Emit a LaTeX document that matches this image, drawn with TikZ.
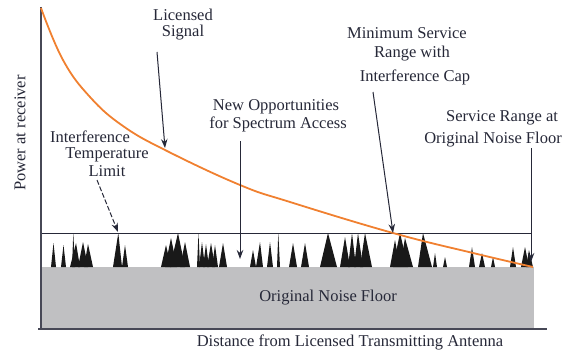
\documentclass[tikz,border=0pt]{standalone}
\usepackage{fontspec}
\setmainfont{Liberation Serif}
\usetikzlibrary{arrows.meta}
\definecolor{sigorange}{RGB}{240,128,48}
\definecolor{floorgray}{RGB}{192,192,194}
\definecolor{inkc}{RGB}{38,40,56}
\tikzset{
  lbl/.style={inner sep=0pt, text=inkc, font=\fontsize{16.5}{18}\selectfont},
  axisline/.style={draw=inkc!85, line width=1.4pt},
  capline/.style={draw=inkc, line width=1pt},
  pointer/.style={draw=inkc, line width=1pt, -{Stealth[length=9pt,width=6.5pt]}},
  spike/.style={fill=black!90, draw=none}
}
\begin{document}
\begin{tikzpicture}[x=1pt,y=-1pt]
\useasboundingbox (0,0) rectangle (571,353);
% noise floor
\fill[floorgray] (41,267) rectangle (534,328);
\node[lbl] (floor) at (328,298) {Original Noise Floor};
% spikes
\foreach \a/\p/\b/\t in {
 51/53.5/56/243, 61/63.5/66/245, 72/73.3/75/233, 70/76/80/243, 78/83/88/242, 84/88/93/244,
 113/118.3/122/233, 122/125/128/245,
 161/166/171/245, 165/171/177/238, 170/178/185/233, 180/185/190/242,
 197/198.5/200/233, 199/202/205/242, 203/206/209/244, 207/211/215/243, 212/215/218/245, 219/223/227/243,
 250/253/256/250, 256/260/263/242, 267/270/273/242, 277/278.3/280/233,
 289/293/297/243, 301/305/309/243, 320/328/337/233,
 340/345/350/237, 348/352/356/233, 354/358/363/233, 360/365/372/233,
 390/395/400/240, 393/400/408/233, 400/405/413/238, 418/423/432/233,
 433/435/437/253, 443/445/447/257, 469/472/475/247, 479/482/485/253, 491/493/495/257,
 510/513/516/247, 521/525/529/247, 526/529/533/250}
 {\fill[spike] (\a,267) -- (\p,\t) -- (\b,267) -- cycle;}
% interference cap line
\draw[capline] (41,233) -- (531,233);
% axes
\draw[axisline] (41,7) -- (41,329);
\draw[axisline] (38,329) -- (547,329);
% licensed signal curve
\draw[sigorange, line width=1.8pt] plot[smooth, tension=0.7] coordinates {
 (41,8) (63,60) (90,97) (123,126) (167,151) (240,185) (290,202) (393,233) (473,253) (533,267)};
% labels
\node[lbl, rotate=90] (ylab) at (20,133) {Power at receiver};
\node[lbl] (xlab) at (350,342) {Distance from Licensed Transmitting Antenna};
\node[lbl] (lic1) at (183,15) {Licensed};
\node[lbl] (lic2) at (183,33) {Signal};
\node[lbl] (new1) at (276,107) {New Opportunities};
\node[lbl] (new2) at (278,124) {for Spectrum Access};
\node[lbl] (min1) at (407,33) {Minimum Service};
\node[lbl] (min2) at (412,54) {Range with};
\node[lbl] (min3) at (415,77) {Interference Cap};
\node[lbl] (srv1) at (502,118) {Service Range at};
\node[lbl] (srv2) at (493,140) {Original Noise Floor};
\node[lbl] (itl1) at (90,137) {Interference};
\node[lbl] (itl2) at (107,155) {Temperature};
\node[lbl] (itl3) at (107,171) {Limit};
% pointer coordinates
\coordinate (licA) at (157,52);
\coordinate (licB) at (165,148);
\coordinate (newA) at (240,141);
\coordinate (newB) at (240,259);
\coordinate (minA) at (373,92);
\coordinate (minB) at (393,233);
\coordinate (srvA) at (531,148);
\coordinate (srvB) at (531,262);
\coordinate (itlA) at (97,180);
\coordinate (itlB) at (118,232);
\draw[pointer] (licA) -- (licB);
\draw[pointer] (newA) -- (newB);
\draw[pointer] (minA) -- (minB);
\draw[pointer] (srvA) -- (srvB);
\draw[pointer, dash pattern=on 5pt off 2pt] (itlA) -- (itlB);
\end{tikzpicture}
\end{document}
